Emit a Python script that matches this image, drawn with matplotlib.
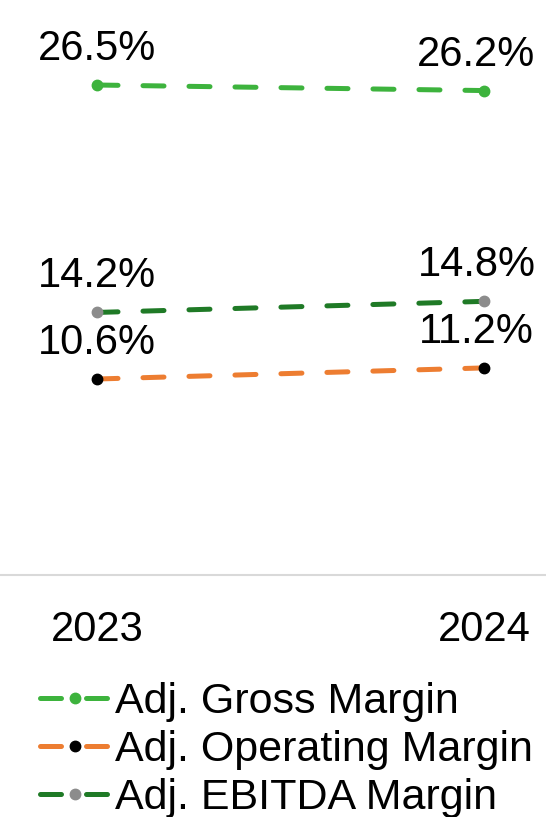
import matplotlib.pyplot as plt

plt.rcParams['font.family'] = ['Liberation Sans', 'DejaVu Sans']

years = ['2023', '2024']
gross = [26.5, 26.2]
operating = [10.6, 11.2]
ebitda = [14.2, 14.8]

series = [
    ('Adj. Gross Margin', gross, '#3db33d', '#3db33d'),
    ('Adj. Operating Margin', operating, '#ed7d31', '#000000'),
    ('Adj. EBITDA Margin', ebitda, '#1f7a26', '#8c8c8c'),
]

fig = plt.figure(figsize=(5.46, 8.17), dpi=100)
ax = fig.add_axes([0, (817 - 575) / 817, 1, 575 / 817])

x = [0, 1]
for name, vals, lc, mc in series:
    ax.plot(x, vals, color=lc, lw=3.6, linestyle=(0, (4.2, 5.0)),
            dash_capstyle='round', marker='o', markersize=7.5,
            markerfacecolor=mc, markeredgecolor=mc, label=name)
    # value labels above each end point
    ax.annotate(f'{vals[0]:.1f}%', (0, vals[0]), xytext=(0, 18),
                textcoords='offset points', ha='center', va='baseline',
                fontsize=30)
    ax.annotate(f'{vals[1]:.1f}%', (1, vals[1]), xytext=(-5.4, 18),
                textcoords='offset points', ha='center', va='baseline',
                fontsize=30)

ax.set_xlim(-97 / 387, 1 + 62 / 387)
ax.set_ylim(0, 575 / 18.49)
ax.set_xticks(x)
ax.set_xticklabels(years, fontsize=30)
ax.tick_params(axis='x', length=0, pad=25)
ax.set_yticks([])
for s in ['top', 'left', 'right']:
    ax.spines[s].set_visible(False)
ax.spines['bottom'].set_color('#d9d9d9')
ax.spines['bottom'].set_linewidth(1.5)

fig.legend(loc='upper left', bbox_to_anchor=(40 / 546, 1 - 682 / 817),
           frameon=False, fontsize=31, handlelength=1.62, handletextpad=0.12,
           labelspacing=0.19, borderpad=0, borderaxespad=0, markerscale=1.0)

fig.savefig('out.png', dpi=100)
